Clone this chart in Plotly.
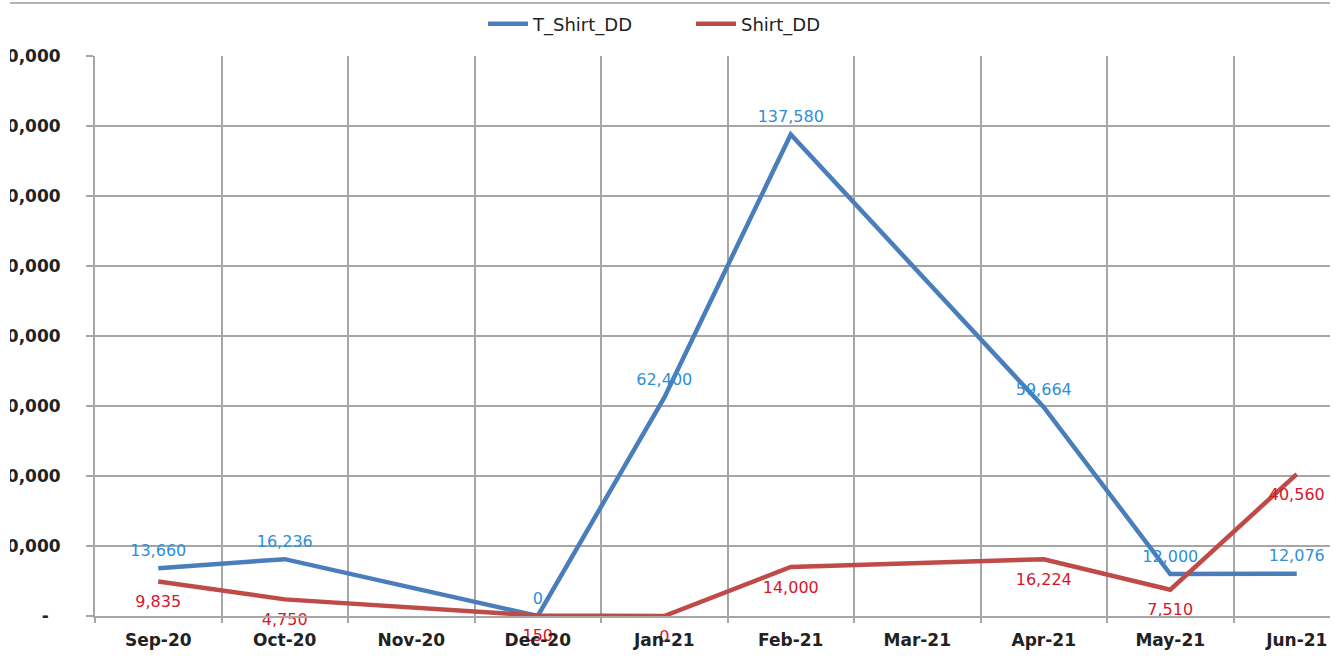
import plotly.graph_objects as go

# Monthly demand figures
months = ["Sep-20", "Oct-20", "Nov-20", "Dec-20", "Jan-21",
          "Feb-21", "Mar-21", "Apr-21", "May-21", "Jun-21"]
t_shirt_dd = [13660, 16236, None, 0, 62400, 137580, None, 59664, 12000, 12076]
shirt_dd = [9835, 4750, None, 150, 0, 14000, None, 16224, 7510, 40560]

y_ticks = [0, 20000, 40000, 60000, 80000, 100000, 120000, 140000, 160000]
y_ticktext = ["-\u00a0\u00a0"] + [f"{v:,}" for v in y_ticks[1:]]

BLUE_LINE = "#4A7EBB"
RED_LINE = "#BE4B48"
BLUE_TEXT = "#2E8FD8"
RED_TEXT = "#D9152B"
GRID = "#A6A6A6"
FONT = "DejaVu Sans"


def fmt(v):
    return "" if v is None else f"{v:,}"


fig = go.Figure()

fig.add_trace(go.Scatter(
    x=months, y=t_shirt_dd, name="T_Shirt_DD",
    mode="lines+markers+text",
    line=dict(color=BLUE_LINE, width=4.5),
    marker=dict(size=12, color="rgba(0,0,0,0)"),
    text=[fmt(v) for v in t_shirt_dd],
    textposition="top center",
    textfont=dict(family=FONT, size=16, color=BLUE_TEXT),
    connectgaps=True, cliponaxis=False,
))

fig.add_trace(go.Scatter(
    x=months, y=shirt_dd, name="Shirt_DD",
    mode="lines+markers+text",
    line=dict(color=RED_LINE, width=4.5),
    marker=dict(size=20, color="rgba(0,0,0,0)"),
    text=[fmt(v) for v in shirt_dd],
    textposition="bottom center",
    textfont=dict(family=FONT, size=16, color=RED_TEXT),
    connectgaps=True, cliponaxis=False,
))

# plot area runs from x=95 to x=1330 in a 1340 wide page
cat_px = 126.5
plot_w = 1330 - 95
plot_h = 616 - 56
x_max = -0.5 + plot_w / cat_px

fig.update_layout(
    width=1340, height=661,
    margin=dict(l=95, r=10, t=56, b=45, autoexpand=False),
    paper_bgcolor="white", plot_bgcolor="white",
    font=dict(family=FONT, color="#222222"),
    showlegend=True,
    legend=dict(
        orientation="h", x=(483 - 95) / plot_w, xanchor="left",
        y=1 + 32 / plot_h, yanchor="middle",
        font=dict(family=FONT, size=18, color="#222222"),
        bgcolor="rgba(0,0,0,0)", itemwidth=40, entrywidth=153,
    ),
    xaxis=dict(
        type="category", range=[-0.5, x_max],
        tickson="boundaries",
        showgrid=True, gridcolor=GRID, gridwidth=2,
        showline=True, linecolor=GRID, linewidth=2,
        ticks="outside", ticklen=5, tickcolor=GRID, tickwidth=2,
        tickfont=dict(family=FONT, size=17, color="#222222", weight="bold"),
        ticklabelstandoff=8,
        fixedrange=True, automargin=False,
    ),
    yaxis=dict(
        range=[0, 160000],
        tickvals=y_ticks, ticktext=y_ticktext,
        showgrid=True, gridcolor=GRID, gridwidth=2,
        showline=True, linecolor=GRID, linewidth=2,
        ticks="outside", ticklen=7, tickcolor=GRID, tickwidth=2,
        tickfont=dict(family=FONT, size=17, color="#222222", weight="bold"),
        ticklabelstandoff=22,
        automargin=False, zeroline=False,
    ),
    shapes=[
        # outer chart border along the top
        dict(type="line", xref="paper", yref="paper",
             x0=-85 / plot_w, x1=1.0, y0=1 + 53 / plot_h, y1=1 + 53 / plot_h,
             line=dict(color="#B4B4B4", width=2)),
        # blank strips at the left and right edges of the chart
        dict(type="rect", xref="paper", yref="paper",
             x0=-100 / plot_w, x1=-85 / plot_w, y0=-0.2, y1=1.2,
             fillcolor="white", line=dict(width=0), layer="above"),
        dict(type="rect", xref="paper", yref="paper",
             x0=1.0, x1=1.05, y0=-0.02, y1=1.02,
             fillcolor="white", line=dict(width=0), layer="above"),
    ],
)

fig.write_html("out.html")
